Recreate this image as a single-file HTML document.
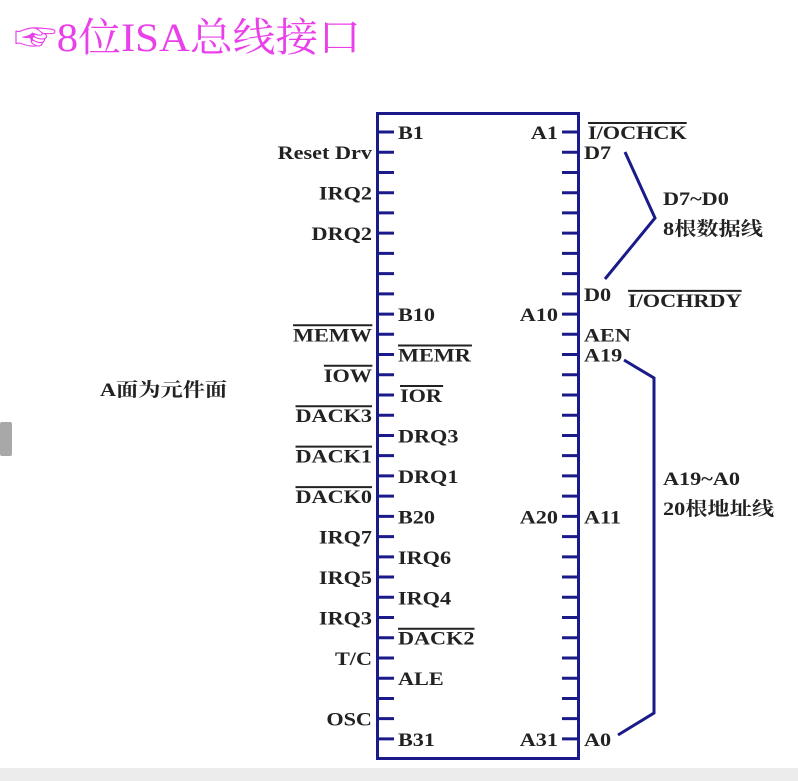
<!DOCTYPE html>
<html><head><meta charset="utf-8"><style>
html,body{margin:0;padding:0;background:#fff;width:798px;height:781px;overflow:hidden}
svg{display:block}
text{font-family:"Liberation Serif","Noto Serif CJK SC",serif;font-size:19px;font-weight:bold;fill:#222}
</style></head><body>
<svg width="798" height="781" viewBox="0 0 798 781">
<rect x="0" y="768" width="798" height="13" fill="#ececec"/>
<rect x="0" y="422" width="12" height="34" rx="2" fill="#a8a8a8"/>
<g transform="translate(14,0) scale(1.07,1) translate(-14,0)">
<text x="14" y="51" style="font-size:40px;fill:#ea40ea;font-weight:normal">☞8位ISA总线接口</text>
</g>
<rect x="377.5" y="113.5" width="201" height="645" fill="none" stroke="#1a1a8a" stroke-width="3"/>
<g stroke="#1a1a8a" stroke-width="3" id="ticks"></g>
<polyline points="625,152 655,218 605,279" fill="none" stroke="#1a1a8a" stroke-width="3"/>
<polyline points="624,360 654,378 654,713 618,735" fill="none" stroke="#1a1a8a" stroke-width="3"/>
<g id="labels"></g>
</svg>
<script>
var ns="http://www.w3.org/2000/svg";
var t=document.getElementById('ticks'),L=document.getElementById('labels');
var SX=1.17;
function Y(i){return 132+i*20.23;}
for(var i=0;i<31;i++){
 var y=Y(i);
 [[377,394],[562,579]].forEach(function(p){var l=document.createElementNS(ns,'line');l.setAttribute('x1',p[0]);l.setAttribute('x2',p[1]);l.setAttribute('y1',y);l.setAttribute('y2',y);t.appendChild(l);});
}
function txt(s,x,yb,anchor,ov,sx){
 sx=sx||SX;
 var g=document.createElementNS(ns,'g');
 g.setAttribute('transform','translate('+x+',0) scale('+sx+',1) translate('+(-x)+',0)');
 var e=document.createElementNS(ns,'text');e.textContent=s;e.setAttribute('x',x);e.setAttribute('y',yb);
 if(anchor)e.setAttribute('text-anchor',anchor);
 g.appendChild(e);L.appendChild(g);
 if(ov){var b=e.getBBox();var l=document.createElementNS(ns,'line');l.setAttribute('x1',b.x);l.setAttribute('x2',b.x+b.width);l.setAttribute('y1',yb-16);l.setAttribute('y2',yb-16);l.setAttribute('stroke','#222');l.setAttribute('stroke-width','2');g.appendChild(l);}
}
function lab(s,x,i,anchor,ov){txt(s,x,Y(i)+7,anchor,ov);}
[['Reset Drv',1],['IRQ2',3],['DRQ2',5],['IRQ7',20],['IRQ5',22],['IRQ3',24],['T/C',26],['OSC',29]].forEach(function(a){lab(a[0],372,a[1],'end');});
[['MEMW',10],['IOW',12],['DACK3',14],['DACK1',16],['DACK0',18]].forEach(function(a){lab(a[0],372,a[1],'end',1);});
[['B1',0],['B10',9],['DRQ3',15],['DRQ1',17],['B20',19],['IRQ6',21],['IRQ4',23],['ALE',27],['B31',30]].forEach(function(a){lab(a[0],398,a[1]);});
lab('MEMR',398,11,null,1);lab('IOR',400,13,null,1);lab('DACK2',398,25,null,1);
[['A1',0],['A10',9],['A20',19],['A31',30]].forEach(function(a){lab(a[0],558,a[1],'end');});
[['D7',1],['D0',8],['AEN',10],['A19',11],['A11',19],['A0',30]].forEach(function(a){lab(a[0],584,a[1]);});
lab('I/OCHCK',588,0,null,1);lab('I/OCHRDY',628,8.3,null,1);
txt('D7~D0',663,205);
txt('8根数据线',663,235);
txt('A19~A0',663,485);
txt('20根地址线',663,515);
txt('A面为元件面',100,396);
</script>
</body></html>
